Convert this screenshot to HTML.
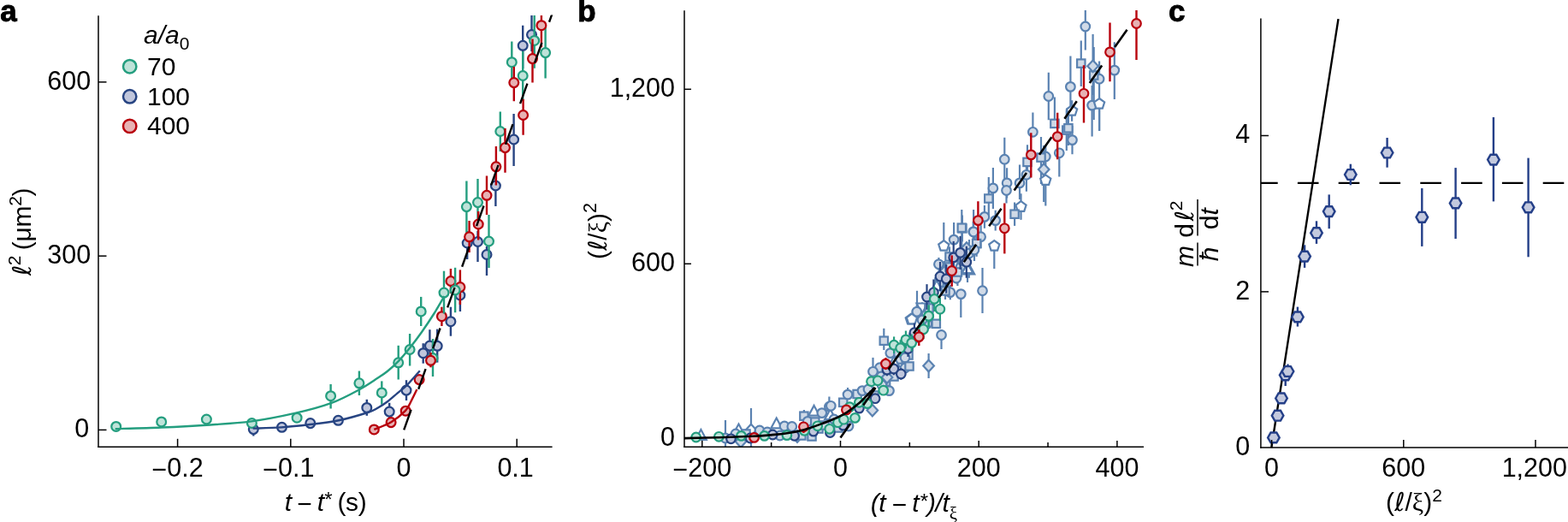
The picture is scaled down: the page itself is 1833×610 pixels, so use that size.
<!DOCTYPE html>
<html><head><meta charset="utf-8"><style>
html,body{margin:0;padding:0;background:#fff;}
body{width:1833px;height:610px;overflow:hidden;}
svg{display:block;}
text{font-family:"Liberation Sans", Arial, Helvetica, sans-serif;fill:#000;}
</style></head><body>
<svg width="1833" height="610" viewBox="0 0 1833 610">
<rect width="1833" height="610" fill="#fff"/>
<g id="pa">
<clipPath id="ca"><rect x="115" y="17.5" width="540" height="505"/></clipPath>
<g clip-path="url(#ca)">
<line x1="296.3" y1="495" x2="296.3" y2="509.5" stroke="#274482" stroke-width="2.4" />
<line x1="362.8" y1="489" x2="362.8" y2="500" stroke="#274482" stroke-width="2.4" />
<line x1="395.4" y1="486" x2="395.4" y2="497" stroke="#274482" stroke-width="2.4" />
<line x1="428.8" y1="466.8" x2="428.8" y2="485.8" stroke="#274482" stroke-width="2.4" />
<line x1="455.2" y1="470.8" x2="455.2" y2="490" stroke="#274482" stroke-width="2.4" />
<line x1="475" y1="444.2" x2="475" y2="468" stroke="#274482" stroke-width="2.4" />
<line x1="494.7" y1="401.2" x2="494.7" y2="424.7" stroke="#274482" stroke-width="2.4" />
<line x1="502.4" y1="385.2" x2="502.4" y2="418" stroke="#274482" stroke-width="2.4" />
<line x1="511.2" y1="384.6" x2="511.2" y2="423.6" stroke="#274482" stroke-width="2.4" />
<line x1="526.9" y1="358.7" x2="526.9" y2="392.7" stroke="#274482" stroke-width="2.4" />
<line x1="537.9" y1="327" x2="537.9" y2="364" stroke="#274482" stroke-width="2.4" />
<line x1="546.2" y1="270" x2="546.2" y2="303" stroke="#274482" stroke-width="2.4" />
<line x1="558.5" y1="270" x2="558.5" y2="306" stroke="#274482" stroke-width="2.4" />
<line x1="569" y1="287.9" x2="569" y2="322" stroke="#274482" stroke-width="2.4" />
<line x1="579.4" y1="199" x2="579.4" y2="241" stroke="#274482" stroke-width="2.4" />
<line x1="600.6" y1="133" x2="600.6" y2="194" stroke="#274482" stroke-width="2.4" />
<line x1="611.2" y1="29.7" x2="611.2" y2="80" stroke="#274482" stroke-width="2.4" />
<line x1="621.5" y1="17.9" x2="621.5" y2="60" stroke="#274482" stroke-width="2.4" />
<circle cx="296.3" cy="501.6" r="5.4" fill="#c0c6dc" stroke="#274482" stroke-width="2.25"/>
<circle cx="329.5" cy="499.3" r="5.4" fill="#c0c6dc" stroke="#274482" stroke-width="2.25"/>
<circle cx="362.8" cy="494.6" r="5.4" fill="#c0c6dc" stroke="#274482" stroke-width="2.25"/>
<circle cx="395.4" cy="491.3" r="5.4" fill="#c0c6dc" stroke="#274482" stroke-width="2.25"/>
<circle cx="428.8" cy="476.4" r="5.4" fill="#c0c6dc" stroke="#274482" stroke-width="2.25"/>
<circle cx="455.2" cy="481.1" r="5.4" fill="#c0c6dc" stroke="#274482" stroke-width="2.25"/>
<circle cx="475" cy="456.1" r="5.4" fill="#c0c6dc" stroke="#274482" stroke-width="2.25"/>
<circle cx="494.7" cy="412.7" r="5.4" fill="#c0c6dc" stroke="#274482" stroke-width="2.25"/>
<circle cx="502.4" cy="404.1" r="5.4" fill="#c0c6dc" stroke="#274482" stroke-width="2.25"/>
<circle cx="511.2" cy="404.3" r="5.4" fill="#c0c6dc" stroke="#274482" stroke-width="2.25"/>
<circle cx="526.9" cy="375.7" r="5.4" fill="#c0c6dc" stroke="#274482" stroke-width="2.25"/>
<circle cx="537.9" cy="345" r="5.4" fill="#c0c6dc" stroke="#274482" stroke-width="2.25"/>
<circle cx="546.2" cy="284" r="5.4" fill="#c0c6dc" stroke="#274482" stroke-width="2.25"/>
<circle cx="558.5" cy="282.5" r="5.4" fill="#c0c6dc" stroke="#274482" stroke-width="2.25"/>
<circle cx="569" cy="297.5" r="5.4" fill="#c0c6dc" stroke="#274482" stroke-width="2.25"/>
<circle cx="579.4" cy="217" r="5.4" fill="#c0c6dc" stroke="#274482" stroke-width="2.25"/>
<circle cx="600.6" cy="163" r="5.4" fill="#c0c6dc" stroke="#274482" stroke-width="2.25"/>
<circle cx="611.2" cy="53.3" r="5.4" fill="#c0c6dc" stroke="#274482" stroke-width="2.25"/>
<circle cx="621.5" cy="40.5" r="5.4" fill="#c0c6dc" stroke="#274482" stroke-width="2.25"/>
<line x1="386.6" y1="449" x2="386.6" y2="477.5" stroke="#249e7f" stroke-width="2.4" />
<line x1="419.9" y1="433.5" x2="419.9" y2="462" stroke="#249e7f" stroke-width="2.4" />
<line x1="446.3" y1="445.4" x2="446.3" y2="472.7" stroke="#249e7f" stroke-width="2.4" />
<line x1="465.7" y1="403.8" x2="465.7" y2="443.5" stroke="#249e7f" stroke-width="2.4" />
<line x1="479.1" y1="390" x2="479.1" y2="427.5" stroke="#249e7f" stroke-width="2.4" />
<line x1="492.2" y1="346.9" x2="492.2" y2="381" stroke="#249e7f" stroke-width="2.4" />
<line x1="506" y1="396" x2="506" y2="440" stroke="#249e7f" stroke-width="2.4" />
<line x1="545.4" y1="211.5" x2="545.4" y2="273" stroke="#249e7f" stroke-width="2.4" />
<line x1="558.5" y1="209" x2="558.5" y2="258" stroke="#249e7f" stroke-width="2.4" />
<line x1="571.5" y1="251" x2="571.5" y2="313" stroke="#249e7f" stroke-width="2.4" />
<line x1="584.8" y1="130.6" x2="584.8" y2="177" stroke="#249e7f" stroke-width="2.4" />
<line x1="598.3" y1="48.4" x2="598.3" y2="96.6" stroke="#249e7f" stroke-width="2.4" />
<line x1="611.2" y1="60" x2="611.2" y2="118" stroke="#249e7f" stroke-width="2.4" />
<line x1="624.7" y1="17.9" x2="624.7" y2="79.8" stroke="#249e7f" stroke-width="2.4" />
<line x1="637.6" y1="31.6" x2="637.6" y2="91.6" stroke="#249e7f" stroke-width="2.4" />
<circle cx="135.7" cy="498.4" r="5.4" fill="#bfe3d9" stroke="#249e7f" stroke-width="2.25"/>
<circle cx="188.7" cy="492.9" r="5.4" fill="#bfe3d9" stroke="#249e7f" stroke-width="2.25"/>
<circle cx="241.4" cy="490" r="5.4" fill="#bfe3d9" stroke="#249e7f" stroke-width="2.25"/>
<circle cx="294.4" cy="494.5" r="5.4" fill="#bfe3d9" stroke="#249e7f" stroke-width="2.25"/>
<circle cx="347.1" cy="488.2" r="5.4" fill="#bfe3d9" stroke="#249e7f" stroke-width="2.25"/>
<circle cx="386.6" cy="462.7" r="5.4" fill="#bfe3d9" stroke="#249e7f" stroke-width="2.25"/>
<circle cx="419.9" cy="447.8" r="5.4" fill="#bfe3d9" stroke="#249e7f" stroke-width="2.25"/>
<circle cx="446.3" cy="458.9" r="5.4" fill="#bfe3d9" stroke="#249e7f" stroke-width="2.25"/>
<circle cx="465.7" cy="423.8" r="5.4" fill="#bfe3d9" stroke="#249e7f" stroke-width="2.25"/>
<circle cx="479.1" cy="408.5" r="5.4" fill="#bfe3d9" stroke="#249e7f" stroke-width="2.25"/>
<circle cx="492.2" cy="363.9" r="5.4" fill="#bfe3d9" stroke="#249e7f" stroke-width="2.25"/>
<circle cx="506" cy="418.5" r="5.4" fill="#bfe3d9" stroke="#249e7f" stroke-width="2.25"/>
<circle cx="545.4" cy="241.6" r="5.4" fill="#bfe3d9" stroke="#249e7f" stroke-width="2.25"/>
<circle cx="558.5" cy="236.6" r="5.4" fill="#bfe3d9" stroke="#249e7f" stroke-width="2.25"/>
<circle cx="571.5" cy="282" r="5.4" fill="#bfe3d9" stroke="#249e7f" stroke-width="2.25"/>
<circle cx="584.8" cy="153.5" r="5.4" fill="#bfe3d9" stroke="#249e7f" stroke-width="2.25"/>
<circle cx="598.3" cy="72.7" r="5.4" fill="#bfe3d9" stroke="#249e7f" stroke-width="2.25"/>
<circle cx="611.2" cy="88.5" r="5.4" fill="#bfe3d9" stroke="#249e7f" stroke-width="2.25"/>
<circle cx="624.7" cy="47.4" r="5.4" fill="#bfe3d9" stroke="#249e7f" stroke-width="2.25"/>
<circle cx="637.6" cy="61.6" r="5.4" fill="#bfe3d9" stroke="#249e7f" stroke-width="2.25"/>
<line x1="503.5" y1="412" x2="503.5" y2="429.3" stroke="#b8000c" stroke-width="2.4" />
<line x1="516.4" y1="358.7" x2="516.4" y2="381" stroke="#b8000c" stroke-width="2.4" />
<line x1="526.9" y1="314" x2="526.9" y2="343" stroke="#b8000c" stroke-width="2.4" />
<line x1="537.9" y1="315.4" x2="537.9" y2="356" stroke="#b8000c" stroke-width="2.4" />
<line x1="548.6" y1="258" x2="548.6" y2="295" stroke="#b8000c" stroke-width="2.4" />
<line x1="559.2" y1="247" x2="559.2" y2="280.5" stroke="#b8000c" stroke-width="2.4" />
<line x1="569" y1="205.4" x2="569" y2="251" stroke="#b8000c" stroke-width="2.4" />
<line x1="579.9" y1="171" x2="579.9" y2="216.5" stroke="#b8000c" stroke-width="2.4" />
<line x1="590.5" y1="150" x2="590.5" y2="201.7" stroke="#b8000c" stroke-width="2.4" />
<line x1="600.8" y1="77.9" x2="600.8" y2="118.2" stroke="#b8000c" stroke-width="2.4" />
<line x1="611.6" y1="115.8" x2="611.6" y2="157.7" stroke="#b8000c" stroke-width="2.4" />
<line x1="622.5" y1="45.4" x2="622.5" y2="96.6" stroke="#b8000c" stroke-width="2.4" />
<line x1="632.9" y1="17.9" x2="632.9" y2="55.2" stroke="#b8000c" stroke-width="2.4" />
<circle cx="437.3" cy="501.9" r="5.4" fill="#e7b2b4" stroke="#b8000c" stroke-width="2.25"/>
<circle cx="457.1" cy="493.6" r="5.4" fill="#e7b2b4" stroke="#b8000c" stroke-width="2.25"/>
<circle cx="474.2" cy="480.2" r="5.4" fill="#e7b2b4" stroke="#b8000c" stroke-width="2.25"/>
<circle cx="490.1" cy="443.6" r="5.4" fill="#e7b2b4" stroke="#b8000c" stroke-width="2.25"/>
<circle cx="503.5" cy="421.3" r="5.4" fill="#e7b2b4" stroke="#b8000c" stroke-width="2.25"/>
<circle cx="516.4" cy="369.7" r="5.4" fill="#e7b2b4" stroke="#b8000c" stroke-width="2.25"/>
<circle cx="526.9" cy="328.5" r="5.4" fill="#e7b2b4" stroke="#b8000c" stroke-width="2.25"/>
<circle cx="537.9" cy="335.6" r="5.4" fill="#e7b2b4" stroke="#b8000c" stroke-width="2.25"/>
<circle cx="548.6" cy="276.8" r="5.4" fill="#e7b2b4" stroke="#b8000c" stroke-width="2.25"/>
<circle cx="559.2" cy="262" r="5.4" fill="#e7b2b4" stroke="#b8000c" stroke-width="2.25"/>
<circle cx="569" cy="228.3" r="5.4" fill="#e7b2b4" stroke="#b8000c" stroke-width="2.25"/>
<circle cx="579.9" cy="194.8" r="5.4" fill="#e7b2b4" stroke="#b8000c" stroke-width="2.25"/>
<circle cx="590.5" cy="172.6" r="5.4" fill="#e7b2b4" stroke="#b8000c" stroke-width="2.25"/>
<circle cx="600.8" cy="96.6" r="5.4" fill="#e7b2b4" stroke="#b8000c" stroke-width="2.25"/>
<circle cx="611.6" cy="134.5" r="5.4" fill="#e7b2b4" stroke="#b8000c" stroke-width="2.25"/>
<circle cx="622.5" cy="68.6" r="5.4" fill="#e7b2b4" stroke="#b8000c" stroke-width="2.25"/>
<circle cx="632.9" cy="29.7" r="5.4" fill="#e7b2b4" stroke="#b8000c" stroke-width="2.25"/>
<line x1="519" y1="316.7" x2="519" y2="366.5" stroke="#249e7f" stroke-width="2.4" />
<line x1="532.1" y1="312.8" x2="532.1" y2="365.2" stroke="#249e7f" stroke-width="2.4" />
<circle cx="519" cy="342.1" r="5.4" fill="#bfe3d9" stroke="#249e7f" stroke-width="2.25"/>
<circle cx="532.1" cy="339" r="5.4" fill="#bfe3d9" stroke="#249e7f" stroke-width="2.25"/>
</g>
<g clip-path="url(#ca)" fill="none" stroke-width="2.4">
<path d="M134.7,501.2 C143.72,500.92 171.03,500.25 188.8,499.5 C206.57,498.75 223.78,497.88 241.3,496.7 C258.82,495.52 276.5,494.73 293.9,492.4 C311.3,490.07 330.1,486.28 345.7,482.7 C361.3,479.12 375.18,475.43 387.5,470.9 C399.82,466.37 410.6,460.35 419.6,455.5 C428.6,450.65 435.93,445.42 441.5,441.8 C447.07,438.18 448.88,437.17 453,433.8 C457.12,430.43 461.75,426.28 466.2,421.6 C470.65,416.92 475.2,411.35 479.7,405.7 C484.2,400.05 488.53,394.32 493.2,387.7 C497.87,381.08 503.33,372.92 507.7,366 C512.07,359.08 517.45,349.5 519.4,346.2" stroke="#249e7f"/>
<path d="M295.6,500.6 C301.17,500.4 317.85,500.17 329,499.4 C340.15,498.63 351.35,497.35 362.5,496 C373.65,494.65 384.65,493.63 395.9,491.3 C407.15,488.97 422.4,484.42 430,482 C437.6,479.58 437.67,478.92 441.5,476.8 C445.33,474.68 449.18,472.17 453,469.3 C456.82,466.43 460.58,462.85 464.4,459.6 C468.22,456.35 471.5,454.2 475.9,449.8 C480.3,445.4 488.32,435.97 490.8,433.2" stroke="#274482"/>
<path d="M437.3,501.9 C440.63,500.45 451.18,496.87 457.3,493.2 C463.42,489.53 470.13,483.93 474,479.9 C477.87,475.87 478.27,473.15 480.5,469 C482.73,464.85 486.25,457.33 487.4,455" stroke="#b8000c"/>
</g>
<g clip-path="url(#ca)">
<line x1="472.2" y1="502.4" x2="645.5" y2="16" stroke="#000" stroke-width="2.4" stroke-dasharray="25 25.6"/>
</g>
<line x1="115" y1="18.3" x2="115" y2="523" stroke="#000" stroke-width="1.5" />
<line x1="114.3" y1="522.3" x2="645.6" y2="522.3" stroke="#000" stroke-width="1.5" />
<line x1="115" y1="502.4" x2="124.5" y2="502.4" stroke="#000" stroke-width="1.5" />
<text x="104.3" y="511.3" font-size="30.5" text-anchor="end" >0</text>
<line x1="115" y1="299.15" x2="124.5" y2="299.15" stroke="#000" stroke-width="1.5" />
<text x="106.2" y="308.05" font-size="30.5" text-anchor="end" >300</text>
<line x1="115" y1="95.9" x2="124.5" y2="95.9" stroke="#000" stroke-width="1.5" />
<text x="106.2" y="104.8" font-size="30.5" text-anchor="end" >600</text>
<line x1="207.6" y1="522.3" x2="207.6" y2="512.8" stroke="#000" stroke-width="1.5" />
<text x="207.6" y="557.3" font-size="30.5" text-anchor="middle" ><tspan dy="2">&#8722;</tspan><tspan dy="-2">0.2</tspan></text>
<line x1="339.8" y1="522.3" x2="339.8" y2="512.8" stroke="#000" stroke-width="1.5" />
<text x="337.3" y="557.3" font-size="30.5" text-anchor="middle" ><tspan dy="2">&#8722;</tspan><tspan dy="-2">0.1</tspan></text>
<line x1="472" y1="522.3" x2="472" y2="512.8" stroke="#000" stroke-width="1.5" />
<text x="472" y="557.3" font-size="30.5" text-anchor="middle" >0</text>
<line x1="604.2" y1="522.3" x2="604.2" y2="512.8" stroke="#000" stroke-width="1.5" />
<text x="602.6" y="557.3" font-size="30.5" text-anchor="middle" >0.1</text>
<text x="380.5" y="596.8" font-size="30" text-anchor="middle" word-spacing="-1.4" letter-spacing="-0.45"><tspan font-style="italic">t</tspan> <tspan dy="2">&#8722;</tspan><tspan dy="-2"> </tspan><tspan font-style="italic">t</tspan><tspan font-size="24" dy="-4.5" dx="0.5">*</tspan><tspan dy="4.5"> (s)</tspan></text>
<text x="36" y="271" font-size="30" text-anchor="middle" transform="rotate(-90 36 271)" word-spacing="-1.5" letter-spacing="-0.3"><tspan font-family="DejaVu Sans">&#8467;</tspan><tspan font-size="21" dy="-12.5">2</tspan><tspan dy="12.5"> (&#956;m</tspan><tspan font-size="21" dy="-11">2</tspan><tspan dy="11">)</tspan></text>
<text x="168" y="51" font-size="30" text-anchor="start" ><tspan font-style="italic">a/a</tspan><tspan font-size="21" dy="7">0</tspan></text>
<circle cx="151.7" cy="77.7" r="7.7" fill="#bfe3d9" stroke="#249e7f" stroke-width="2.5"/>
<text x="172" y="88.2" font-size="30" text-anchor="start" >70</text>
<circle cx="151.7" cy="112.8" r="7.7" fill="#c0c6dc" stroke="#274482" stroke-width="2.5"/>
<text x="172" y="122.5" font-size="30" text-anchor="start" >100</text>
<circle cx="151.7" cy="147.4" r="7.7" fill="#e7b2b4" stroke="#b8000c" stroke-width="2.5"/>
<text x="172" y="156.5" font-size="30" text-anchor="start" >400</text>
</g>
<text x="0.3" y="24.5" font-size="35" text-anchor="start" font-weight="bold" stroke="#000" stroke-width="0.9">a</text>
<text x="675.3" y="24.6" font-size="35" text-anchor="start" font-weight="bold" stroke="#000" stroke-width="0.9">b</text>
<text x="1366" y="24.6" font-size="35" text-anchor="start" font-weight="bold" stroke="#000" stroke-width="0.9">c</text>
<g id="pb">
<clipPath id="cb"><rect x="800" y="11.5" width="540" height="511"/></clipPath>
<g clip-path="url(#cb)">
<line x1="848" y1="491" x2="848" y2="522" stroke="#5a82b1" stroke-width="2.2" />
<line x1="878" y1="477" x2="878" y2="522" stroke="#5a82b1" stroke-width="2.2" />
<line x1="939.9" y1="479" x2="939.9" y2="486.2" stroke="#5a82b1" stroke-width="2.2" />
<line x1="969.4" y1="463.5" x2="969.4" y2="475.2" stroke="#5a82b1" stroke-width="2.2" />
<line x1="991" y1="453" x2="991" y2="461.1" stroke="#5a82b1" stroke-width="2.2" />
<line x1="1008" y1="453.57" x2="1008" y2="459.63" stroke="#5a82b1" stroke-width="2.2" />
<line x1="1035.6" y1="442.86" x2="1035.6" y2="449.14" stroke="#5a82b1" stroke-width="2.2" />
<line x1="1028.4" y1="426.32" x2="1028.4" y2="433.08" stroke="#5a82b1" stroke-width="2.2" />
<line x1="1040.8" y1="407.8" x2="1040.8" y2="417.4" stroke="#5a82b1" stroke-width="2.2" />
<line x1="1020.5" y1="417.9" x2="1020.5" y2="434.3" stroke="#5a82b1" stroke-width="2.2" />
<line x1="1033.3" y1="383.8" x2="1033.3" y2="409" stroke="#5a82b1" stroke-width="2.2" />
<line x1="1085.6" y1="413" x2="1085.6" y2="442" stroke="#5a82b1" stroke-width="2.2" />
<line x1="1100.5" y1="385" x2="1100.5" y2="408" stroke="#5a82b1" stroke-width="2.2" />
<line x1="1064.8" y1="369.02" x2="1064.8" y2="377.58" stroke="#5a82b1" stroke-width="2.2" />
<line x1="1094.3" y1="374.2" x2="1094.3" y2="382.4" stroke="#5a82b1" stroke-width="2.2" />
<line x1="1072" y1="339.8" x2="1072" y2="364.4" stroke="#5a82b1" stroke-width="2.2" />
<line x1="1077.9" y1="353.31" x2="1077.9" y2="364.49" stroke="#5a82b1" stroke-width="2.2" />
<line x1="1083.8" y1="371.26" x2="1083.8" y2="385.74" stroke="#5a82b1" stroke-width="2.2" />
<line x1="1050" y1="416" x2="1050" y2="424" stroke="#5a82b1" stroke-width="2.2" />
<line x1="1058" y1="426.81" x2="1058" y2="433.19" stroke="#5a82b1" stroke-width="2.2" />
<line x1="1062" y1="410.19" x2="1062" y2="419.81" stroke="#5a82b1" stroke-width="2.2" />
<line x1="1045" y1="436.87" x2="1045" y2="443.13" stroke="#5a82b1" stroke-width="2.2" />
<line x1="1068" y1="388.2" x2="1068" y2="401.8" stroke="#5a82b1" stroke-width="2.2" />
<line x1="1071.8" y1="356.15" x2="1071.8" y2="372.45" stroke="#5a82b1" stroke-width="2.2" />
<line x1="1097.4" y1="301" x2="1097.4" y2="316.6" stroke="#5a82b1" stroke-width="2.2" />
<line x1="1115.1" y1="260" x2="1115.1" y2="280.1" stroke="#5a82b1" stroke-width="2.2" />
<line x1="1103.3" y1="260" x2="1103.3" y2="287.5" stroke="#5a82b1" stroke-width="2.2" />
<line x1="1110.8" y1="332.94" x2="1110.8" y2="350.26" stroke="#5a82b1" stroke-width="2.2" />
<line x1="1123.3" y1="343.6" x2="1123.3" y2="371" stroke="#5a82b1" stroke-width="2.2" />
<line x1="1148.5" y1="313" x2="1148.5" y2="366" stroke="#5a82b1" stroke-width="2.2" />
<line x1="1162.3" y1="287.5" x2="1162.3" y2="314" stroke="#5a82b1" stroke-width="2.2" />
<line x1="1137.7" y1="258.85" x2="1137.7" y2="282.75" stroke="#5a82b1" stroke-width="2.2" />
<line x1="1124.9" y1="251.42" x2="1124.9" y2="282.38" stroke="#5a82b1" stroke-width="2.2" />
<line x1="1146.6" y1="263.19" x2="1146.6" y2="290.21" stroke="#5a82b1" stroke-width="2.2" />
<line x1="1065.9" y1="367.62" x2="1065.9" y2="378.58" stroke="#5a82b1" stroke-width="2.2" />
<line x1="1141.6" y1="269.35" x2="1141.6" y2="299.85" stroke="#5a82b1" stroke-width="2.2" />
<line x1="1123" y1="305.4" x2="1123" y2="318.8" stroke="#5a82b1" stroke-width="2.2" />
<line x1="1132.8" y1="307.17" x2="1132.8" y2="324.83" stroke="#5a82b1" stroke-width="2.2" />
<line x1="1105" y1="330.05" x2="1105" y2="349.95" stroke="#5a82b1" stroke-width="2.2" />
<line x1="1118" y1="318.51" x2="1118" y2="331.49" stroke="#5a82b1" stroke-width="2.2" />
<line x1="1098" y1="321.33" x2="1098" y2="338.67" stroke="#5a82b1" stroke-width="2.2" />
<line x1="1130" y1="283.21" x2="1130" y2="296.79" stroke="#5a82b1" stroke-width="2.2" />
<line x1="1110" y1="288.37" x2="1110" y2="311.63" stroke="#5a82b1" stroke-width="2.2" />
<line x1="1174.3" y1="160.7" x2="1174.3" y2="209.7" stroke="#5a82b1" stroke-width="2.2" />
<line x1="1160.9" y1="196" x2="1160.9" y2="244" stroke="#5a82b1" stroke-width="2.2" />
<line x1="1177.1" y1="196.26" x2="1177.1" y2="231.54" stroke="#5a82b1" stroke-width="2.2" />
<line x1="1176.5" y1="207.55" x2="1176.5" y2="237.45" stroke="#5a82b1" stroke-width="2.2" />
<line x1="1192" y1="192.6" x2="1192" y2="233" stroke="#5a82b1" stroke-width="2.2" />
<line x1="1199.9" y1="184.75" x2="1199.9" y2="223.85" stroke="#5a82b1" stroke-width="2.2" />
<line x1="1207.4" y1="131.6" x2="1207.4" y2="154.3" stroke="#5a82b1" stroke-width="2.2" />
<line x1="1238.3" y1="178.8" x2="1238.3" y2="206.5" stroke="#5a82b1" stroke-width="2.2" />
<line x1="1222.3" y1="169.3" x2="1222.3" y2="196.7" stroke="#5a82b1" stroke-width="2.2" />
<line x1="1155.8" y1="207" x2="1155.8" y2="255" stroke="#5a82b1" stroke-width="2.2" />
<line x1="1217" y1="160" x2="1217" y2="215" stroke="#5a82b1" stroke-width="2.2" />
<line x1="1220.2" y1="170" x2="1220.2" y2="236" stroke="#5a82b1" stroke-width="2.2" />
<line x1="1222.3" y1="210.7" x2="1222.3" y2="240.6" stroke="#5a82b1" stroke-width="2.2" />
<line x1="1193.5" y1="226.37" x2="1193.5" y2="256.83" stroke="#5a82b1" stroke-width="2.2" />
<line x1="1186.1" y1="236.5" x2="1186.1" y2="263.9" stroke="#5a82b1" stroke-width="2.2" />
<line x1="1150.9" y1="240.02" x2="1150.9" y2="266.78" stroke="#5a82b1" stroke-width="2.2" />
<line x1="1163.7" y1="245.66" x2="1163.7" y2="269.54" stroke="#5a82b1" stroke-width="2.2" />
<line x1="1124.3" y1="245" x2="1124.3" y2="290" stroke="#5a82b1" stroke-width="2.2" />
<line x1="1138.1" y1="245" x2="1138.1" y2="296" stroke="#5a82b1" stroke-width="2.2" />
<line x1="1201" y1="169.33" x2="1201" y2="209.47" stroke="#5a82b1" stroke-width="2.2" />
<line x1="1246.8" y1="128.18" x2="1246.8" y2="176.02" stroke="#5a82b1" stroke-width="2.2" />
<line x1="1225.8" y1="84.8" x2="1225.8" y2="140.2" stroke="#5a82b1" stroke-width="2.2" />
<line x1="1251.4" y1="65.6" x2="1251.4" y2="130" stroke="#5a82b1" stroke-width="2.2" />
<line x1="1276.6" y1="100" x2="1276.6" y2="159.4" stroke="#5a82b1" stroke-width="2.2" />
<line x1="1285.1" y1="71.6" x2="1285.1" y2="152.7" stroke="#5a82b1" stroke-width="2.2" />
<line x1="1253.5" y1="146.88" x2="1253.5" y2="180.32" stroke="#5a82b1" stroke-width="2.2" />
<line x1="1263.8" y1="47.5" x2="1263.8" y2="101" stroke="#5a82b1" stroke-width="2.2" />
<line x1="1232.9" y1="113.5" x2="1232.9" y2="144.4" stroke="#5a82b1" stroke-width="2.2" />
<line x1="1248.9" y1="129.71" x2="1248.9" y2="169.89" stroke="#5a82b1" stroke-width="2.2" />
<line x1="1278.7" y1="55" x2="1278.7" y2="140" stroke="#5a82b1" stroke-width="2.2" />
<line x1="1277.6" y1="40" x2="1277.6" y2="111" stroke="#5a82b1" stroke-width="2.2" />
<line x1="1253.1" y1="117.32" x2="1253.1" y2="141.68" stroke="#5a82b1" stroke-width="2.2" />
<line x1="1285.1" y1="121.4" x2="1285.1" y2="153" stroke="#5a82b1" stroke-width="2.2" />
<line x1="1268.8" y1="12" x2="1268.8" y2="58.5" stroke="#5a82b1" stroke-width="2.2" />
<line x1="1302.8" y1="49.3" x2="1302.8" y2="115.9" stroke="#5a82b1" stroke-width="2.2" />
<line x1="1131" y1="300" x2="1131" y2="330" stroke="#5a82b1" stroke-width="2.2" />
<line x1="1133" y1="280" x2="1133" y2="312" stroke="#5a82b1" stroke-width="2.2" />
<line x1="1119.4" y1="303" x2="1119.4" y2="334" stroke="#5a82b1" stroke-width="2.2" />
<line x1="1104" y1="305" x2="1104" y2="333" stroke="#5a82b1" stroke-width="2.2" />
<line x1="1095" y1="322" x2="1095" y2="348" stroke="#5a82b1" stroke-width="2.2" />
<line x1="1086" y1="350" x2="1086" y2="372" stroke="#5a82b1" stroke-width="2.2" />
<line x1="1078" y1="362" x2="1078" y2="386" stroke="#5a82b1" stroke-width="2.2" />
<line x1="1050" y1="402" x2="1050" y2="424" stroke="#5a82b1" stroke-width="2.2" />
<line x1="1058" y1="408" x2="1058" y2="428" stroke="#5a82b1" stroke-width="2.2" />
<line x1="1045" y1="414" x2="1045" y2="434" stroke="#5a82b1" stroke-width="2.2" />
<line x1="1063" y1="423.53" x2="1063" y2="432.47" stroke="#5a82b1" stroke-width="2.2" />
<line x1="1015" y1="447" x2="1015" y2="463" stroke="#5a82b1" stroke-width="2.2" />
<line x1="1031" y1="442" x2="1031" y2="458" stroke="#5a82b1" stroke-width="2.2" />
<line x1="1037" y1="436.54" x2="1037" y2="445.46" stroke="#5a82b1" stroke-width="2.2" />
<line x1="1110" y1="298" x2="1110" y2="325" stroke="#5a82b1" stroke-width="2.2" />
<line x1="1139" y1="277" x2="1139" y2="305" stroke="#5a82b1" stroke-width="2.2" />
<line x1="1125.4" y1="292" x2="1125.4" y2="318" stroke="#5a82b1" stroke-width="2.2" />
<polygon points="819.4,502.1 825.8,513.9 813,513.9" fill="#ffffff" stroke="#5a82b1" stroke-width="2.2" stroke-linejoin="miter"/>
<circle cx="848" cy="512" r="5.3" fill="#d0dae7" stroke="#5a82b1" stroke-width="2.2"/>
<polygon points="863.5,495.6 869.9,507.4 857.1,507.4" fill="#ffffff" stroke="#5a82b1" stroke-width="2.2" stroke-linejoin="miter"/>
<polygon points="878,495.7 884.3,502.5 878,509.3 871.7,502.5" fill="#ffffff" stroke="#5a82b1" stroke-width="2.2" stroke-linejoin="miter"/>
<circle cx="888" cy="503" r="5.3" fill="#d0dae7" stroke="#5a82b1" stroke-width="2.2"/>
<polygon points="907.7,488.6 914.1,500.4 901.3,500.4" fill="#ffffff" stroke="#5a82b1" stroke-width="2.2" stroke-linejoin="miter"/>
<circle cx="917" cy="498" r="5.3" fill="#d0dae7" stroke="#5a82b1" stroke-width="2.2"/>
<circle cx="860" cy="507" r="5.3" fill="#d0dae7" stroke="#5a82b1" stroke-width="2.2"/>
<rect x="867.3" y="502.3" width="9.4" height="9.4" fill="#d0dae7" stroke="#5a82b1" stroke-width="2.2"/>
<circle cx="897" cy="505" r="5.3" fill="#d0dae7" stroke="#5a82b1" stroke-width="2.2"/>
<polygon points="866,509.2 872.3,516 866,522.8 859.7,516" fill="#d0dae7" stroke="#5a82b1" stroke-width="2.2" stroke-linejoin="miter"/>
<circle cx="911.7" cy="509" r="5.3" fill="#d0dae7" stroke="#5a82b1" stroke-width="2.2"/>
<circle cx="925.8" cy="498.5" r="5.3" fill="#d0dae7" stroke="#5a82b1" stroke-width="2.2"/>
<rect x="935.2" y="481.5" width="9.4" height="9.4" fill="#d0dae7" stroke="#5a82b1" stroke-width="2.2"/>
<circle cx="944.2" cy="492.4" r="5.3" fill="#d0dae7" stroke="#5a82b1" stroke-width="2.2"/>
<polygon points="951.6,473.9 958,485.7 945.2,485.7" fill="#ffffff" stroke="#5a82b1" stroke-width="2.2" stroke-linejoin="miter"/>
<circle cx="960.8" cy="482.6" r="5.3" fill="#d0dae7" stroke="#5a82b1" stroke-width="2.2"/>
<circle cx="969.4" cy="475.2" r="5.3" fill="#d0dae7" stroke="#5a82b1" stroke-width="2.2"/>
<rect x="948.1" y="488.3" width="9.4" height="9.4" fill="#d0dae7" stroke="#5a82b1" stroke-width="2.2"/>
<rect x="952.3" y="496.3" width="9.4" height="9.4" fill="#d0dae7" stroke="#5a82b1" stroke-width="2.2"/>
<polygon points="932,503.2 938.3,510 932,516.8 925.7,510" fill="#d0dae7" stroke="#5a82b1" stroke-width="2.2" stroke-linejoin="miter"/>
<rect x="932.2" y="504.3" width="9.4" height="9.4" fill="#d0dae7" stroke="#5a82b1" stroke-width="2.2"/>
<rect x="944.3" y="505.3" width="9.4" height="9.4" fill="#d0dae7" stroke="#5a82b1" stroke-width="2.2"/>
<polygon points="970.6,478.2 977,490 964.2,490" fill="#ffffff" stroke="#5a82b1" stroke-width="2.2" stroke-linejoin="miter"/>
<rect x="959.3" y="492.3" width="9.4" height="9.4" fill="#d0dae7" stroke="#5a82b1" stroke-width="2.2"/>
<circle cx="975" cy="490" r="5.3" fill="#d0dae7" stroke="#5a82b1" stroke-width="2.2"/>
<rect x="975.3" y="495.3" width="9.4" height="9.4" fill="#d0dae7" stroke="#5a82b1" stroke-width="2.2"/>
<circle cx="992" cy="498" r="5.3" fill="#d0dae7" stroke="#5a82b1" stroke-width="2.2"/>
<circle cx="971.3" cy="474.3" r="5.3" fill="#d0dae7" stroke="#5a82b1" stroke-width="2.2"/>
<rect x="981" y="465.6" width="9.4" height="9.4" fill="#d0dae7" stroke="#5a82b1" stroke-width="2.2"/>
<circle cx="991" cy="461.1" r="5.3" fill="#d0dae7" stroke="#5a82b1" stroke-width="2.2"/>
<rect x="997.4" y="455.8" width="9.4" height="9.4" fill="#d0dae7" stroke="#5a82b1" stroke-width="2.2"/>
<circle cx="1008" cy="456.6" r="5.3" fill="#d0dae7" stroke="#5a82b1" stroke-width="2.2"/>
<circle cx="1039.5" cy="456.6" r="5.3" fill="#d0dae7" stroke="#5a82b1" stroke-width="2.2"/>
<rect x="1030.9" y="441.3" width="9.4" height="9.4" fill="#d0dae7" stroke="#5a82b1" stroke-width="2.2"/>
<polygon points="1019.8,472.7 1026.1,479.5 1019.8,486.3 1013.5,479.5" fill="#d0dae7" stroke="#5a82b1" stroke-width="2.2" stroke-linejoin="miter"/>
<circle cx="1028.4" cy="429.7" r="5.3" fill="#d0dae7" stroke="#5a82b1" stroke-width="2.2"/>
<circle cx="1040.8" cy="412.6" r="5.3" fill="#d0dae7" stroke="#5a82b1" stroke-width="2.2"/>
<circle cx="1020.5" cy="434.3" r="5.3" fill="#d0dae7" stroke="#5a82b1" stroke-width="2.2"/>
<rect x="1028.6" y="393.5" width="9.4" height="9.4" fill="#d0dae7" stroke="#5a82b1" stroke-width="2.2"/>
<polygon points="1085.6,420.7 1091.9,427.5 1085.6,434.3 1079.3,427.5" fill="#d0dae7" stroke="#5a82b1" stroke-width="2.2" stroke-linejoin="miter"/>
<circle cx="1100.5" cy="391.5" r="5.3" fill="#d0dae7" stroke="#5a82b1" stroke-width="2.2"/>
<polygon points="1064.8,366.9 1070.89,371.32 1068.56,378.48 1061.04,378.48 1058.71,371.32" fill="#ffffff" stroke="#5a82b1" stroke-width="2.2" stroke-linejoin="miter"/>
<rect x="1089.6" y="373.6" width="9.4" height="9.4" fill="#d0dae7" stroke="#5a82b1" stroke-width="2.2"/>
<circle cx="1072" cy="364.4" r="5.3" fill="#d0dae7" stroke="#5a82b1" stroke-width="2.2"/>
<polygon points="1077.9,366.3 1084.3,354.5 1071.5,354.5" fill="#ffffff" stroke="#5a82b1" stroke-width="2.2" stroke-linejoin="miter"/>
<circle cx="1083.8" cy="378.5" r="5.3" fill="#d0dae7" stroke="#5a82b1" stroke-width="2.2"/>
<rect x="1045.3" y="415.3" width="9.4" height="9.4" fill="#d0dae7" stroke="#5a82b1" stroke-width="2.2"/>
<circle cx="1058" cy="430" r="5.3" fill="#d0dae7" stroke="#5a82b1" stroke-width="2.2"/>
<rect x="1057.3" y="410.3" width="9.4" height="9.4" fill="#d0dae7" stroke="#5a82b1" stroke-width="2.2"/>
<rect x="1040.3" y="435.3" width="9.4" height="9.4" fill="#d0dae7" stroke="#5a82b1" stroke-width="2.2"/>
<circle cx="1030" cy="440" r="5.3" fill="#d0dae7" stroke="#5a82b1" stroke-width="2.2"/>
<rect x="1063.3" y="390.3" width="9.4" height="9.4" fill="#d0dae7" stroke="#5a82b1" stroke-width="2.2"/>
<circle cx="1071.8" cy="364.3" r="5.3" fill="#d0dae7" stroke="#5a82b1" stroke-width="2.2"/>
<circle cx="1097.4" cy="308.8" r="5.3" fill="#d0dae7" stroke="#5a82b1" stroke-width="2.2"/>
<circle cx="1115.1" cy="280.1" r="5.3" fill="#d0dae7" stroke="#5a82b1" stroke-width="2.2"/>
<polygon points="1103.3,281.1 1109.39,285.52 1107.06,292.68 1099.54,292.68 1097.21,285.52" fill="#ffffff" stroke="#5a82b1" stroke-width="2.2" stroke-linejoin="miter"/>
<circle cx="1110.8" cy="341.6" r="5.3" fill="#d0dae7" stroke="#5a82b1" stroke-width="2.2"/>
<circle cx="1123.3" cy="343.6" r="5.3" fill="#d0dae7" stroke="#5a82b1" stroke-width="2.2"/>
<circle cx="1148.5" cy="339.7" r="5.3" fill="#d0dae7" stroke="#5a82b1" stroke-width="2.2"/>
<polygon points="1162.3,281.1 1168.39,285.52 1166.06,292.68 1158.54,292.68 1156.21,285.52" fill="#ffffff" stroke="#5a82b1" stroke-width="2.2" stroke-linejoin="miter"/>
<circle cx="1137.7" cy="270.8" r="5.3" fill="#d0dae7" stroke="#5a82b1" stroke-width="2.2"/>
<rect x="1120.2" y="262.2" width="9.4" height="9.4" fill="#d0dae7" stroke="#5a82b1" stroke-width="2.2"/>
<circle cx="1146.6" cy="276.7" r="5.3" fill="#d0dae7" stroke="#5a82b1" stroke-width="2.2"/>
<polygon points="1065.9,366.7 1071.99,371.12 1069.66,378.28 1062.14,378.28 1059.81,371.12" fill="#ffffff" stroke="#5a82b1" stroke-width="2.2" stroke-linejoin="miter"/>
<rect x="1136.9" y="279.9" width="9.4" height="9.4" fill="#d0dae7" stroke="#5a82b1" stroke-width="2.2"/>
<circle cx="1123" cy="312.1" r="5.3" fill="#d0dae7" stroke="#5a82b1" stroke-width="2.2"/>
<polygon points="1132.8,308.6 1139.2,320.4 1126.4,320.4" fill="#ffffff" stroke="#5a82b1" stroke-width="2.2" stroke-linejoin="miter"/>
<rect x="1100.3" y="335.3" width="9.4" height="9.4" fill="#d0dae7" stroke="#5a82b1" stroke-width="2.2"/>
<circle cx="1118" cy="325" r="5.3" fill="#d0dae7" stroke="#5a82b1" stroke-width="2.2"/>
<rect x="1093.3" y="325.3" width="9.4" height="9.4" fill="#d0dae7" stroke="#5a82b1" stroke-width="2.2"/>
<polygon points="1130,283.2 1136.3,290 1130,296.8 1123.7,290" fill="#d0dae7" stroke="#5a82b1" stroke-width="2.2" stroke-linejoin="miter"/>
<rect x="1105.3" y="295.3" width="9.4" height="9.4" fill="#d0dae7" stroke="#5a82b1" stroke-width="2.2"/>
<circle cx="1174.3" cy="186.2" r="5.3" fill="#d0dae7" stroke="#5a82b1" stroke-width="2.2"/>
<circle cx="1160.9" cy="219.9" r="5.3" fill="#d0dae7" stroke="#5a82b1" stroke-width="2.2"/>
<circle cx="1177.1" cy="213.9" r="5.3" fill="#d0dae7" stroke="#5a82b1" stroke-width="2.2"/>
<circle cx="1176.5" cy="222.5" r="5.3" fill="#d0dae7" stroke="#5a82b1" stroke-width="2.2"/>
<circle cx="1192" cy="213.9" r="5.3" fill="#d0dae7" stroke="#5a82b1" stroke-width="2.2"/>
<circle cx="1199.9" cy="204.3" r="5.3" fill="#d0dae7" stroke="#5a82b1" stroke-width="2.2"/>
<circle cx="1207.4" cy="154.3" r="5.3" fill="#d0dae7" stroke="#5a82b1" stroke-width="2.2"/>
<circle cx="1238.3" cy="178.8" r="5.3" fill="#d0dae7" stroke="#5a82b1" stroke-width="2.2"/>
<circle cx="1222.3" cy="183" r="5.3" fill="#d0dae7" stroke="#5a82b1" stroke-width="2.2"/>
<rect x="1151.1" y="227.3" width="9.4" height="9.4" fill="#d0dae7" stroke="#5a82b1" stroke-width="2.2"/>
<rect x="1212.3" y="179.4" width="9.4" height="9.4" fill="#d0dae7" stroke="#5a82b1" stroke-width="2.2"/>
<polygon points="1220.2,191.2 1226.5,198 1220.2,204.8 1213.9,198" fill="#d0dae7" stroke="#5a82b1" stroke-width="2.2" stroke-linejoin="miter"/>
<polygon points="1222.3,204.3 1228.39,208.72 1226.06,215.88 1218.54,215.88 1216.21,208.72" fill="#ffffff" stroke="#5a82b1" stroke-width="2.2" stroke-linejoin="miter"/>
<polygon points="1193.5,235.2 1199.59,239.62 1197.26,246.78 1189.74,246.78 1187.41,239.62" fill="#ffffff" stroke="#5a82b1" stroke-width="2.2" stroke-linejoin="miter"/>
<rect x="1181.4" y="245.5" width="9.4" height="9.4" fill="#d0dae7" stroke="#5a82b1" stroke-width="2.2"/>
<circle cx="1150.9" cy="253.4" r="5.3" fill="#d0dae7" stroke="#5a82b1" stroke-width="2.2"/>
<circle cx="1163.7" cy="257.6" r="5.3" fill="#d0dae7" stroke="#5a82b1" stroke-width="2.2"/>
<rect x="1119.6" y="261.5" width="9.4" height="9.4" fill="#d0dae7" stroke="#5a82b1" stroke-width="2.2"/>
<circle cx="1138.1" cy="271" r="5.3" fill="#d0dae7" stroke="#5a82b1" stroke-width="2.2"/>
<rect x="1196.3" y="184.7" width="9.4" height="9.4" fill="#d0dae7" stroke="#5a82b1" stroke-width="2.2"/>
<rect x="1242.1" y="147.4" width="9.4" height="9.4" fill="#d0dae7" stroke="#5a82b1" stroke-width="2.2"/>
<circle cx="1225.8" cy="112.5" r="5.3" fill="#d0dae7" stroke="#5a82b1" stroke-width="2.2"/>
<circle cx="1251.4" cy="101.4" r="5.3" fill="#d0dae7" stroke="#5a82b1" stroke-width="2.2"/>
<circle cx="1276.6" cy="123.1" r="5.3" fill="#d0dae7" stroke="#5a82b1" stroke-width="2.2"/>
<circle cx="1285.1" cy="92.2" r="5.3" fill="#d0dae7" stroke="#5a82b1" stroke-width="2.2"/>
<circle cx="1253.5" cy="163.6" r="5.3" fill="#d0dae7" stroke="#5a82b1" stroke-width="2.2"/>
<rect x="1259.1" y="69.4" width="9.4" height="9.4" fill="#d0dae7" stroke="#5a82b1" stroke-width="2.2"/>
<rect x="1228.2" y="139.7" width="9.4" height="9.4" fill="#d0dae7" stroke="#5a82b1" stroke-width="2.2"/>
<rect x="1244.2" y="145.1" width="9.4" height="9.4" fill="#d0dae7" stroke="#5a82b1" stroke-width="2.2"/>
<rect x="1274" y="83.3" width="9.4" height="9.4" fill="#d0dae7" stroke="#5a82b1" stroke-width="2.2"/>
<polygon points="1277.6,70.5 1283.9,77.3 1277.6,84.1 1271.3,77.3" fill="#d0dae7" stroke="#5a82b1" stroke-width="2.2" stroke-linejoin="miter"/>
<polygon points="1253.1,123.1 1259.19,127.52 1256.86,134.68 1249.34,134.68 1247.01,127.52" fill="#ffffff" stroke="#5a82b1" stroke-width="2.2" stroke-linejoin="miter"/>
<polygon points="1285.1,115 1291.19,119.42 1288.86,126.58 1281.34,126.58 1279.01,119.42" fill="#ffffff" stroke="#5a82b1" stroke-width="2.2" stroke-linejoin="miter"/>
<circle cx="1268.8" cy="31" r="5.3" fill="#d0dae7" stroke="#5a82b1" stroke-width="2.2"/>
<circle cx="1302.8" cy="82.1" r="5.3" fill="#d0dae7" stroke="#5a82b1" stroke-width="2.2"/>
<polygon points="1131,307.4 1137.4,319.2 1124.6,319.2" fill="#ffffff" stroke="#5a82b1" stroke-width="2.2" stroke-linejoin="miter"/>
<circle cx="1133" cy="296" r="5.3" fill="#d0dae7" stroke="#5a82b1" stroke-width="2.2"/>
<rect x="1114.7" y="313.3" width="9.4" height="9.4" fill="#d0dae7" stroke="#5a82b1" stroke-width="2.2"/>
<polygon points="1104,311.2 1110.3,318 1104,324.8 1097.7,318" fill="#d0dae7" stroke="#5a82b1" stroke-width="2.2" stroke-linejoin="miter"/>
<polygon points="1095,327.6 1101.4,339.4 1088.6,339.4" fill="#ffffff" stroke="#5a82b1" stroke-width="2.2" stroke-linejoin="miter"/>
<rect x="1081.3" y="355.3" width="9.4" height="9.4" fill="#d0dae7" stroke="#5a82b1" stroke-width="2.2"/>
<circle cx="1078" cy="374" r="5.3" fill="#d0dae7" stroke="#5a82b1" stroke-width="2.2"/>
<rect x="1045.3" y="407.3" width="9.4" height="9.4" fill="#d0dae7" stroke="#5a82b1" stroke-width="2.2"/>
<circle cx="1058" cy="418" r="5.3" fill="#d0dae7" stroke="#5a82b1" stroke-width="2.2"/>
<polygon points="1045,416.6 1051.4,428.4 1038.6,428.4" fill="#ffffff" stroke="#5a82b1" stroke-width="2.2" stroke-linejoin="miter"/>
<rect x="1058.3" y="423.3" width="9.4" height="9.4" fill="#d0dae7" stroke="#5a82b1" stroke-width="2.2"/>
<circle cx="1015" cy="455" r="5.3" fill="#d0dae7" stroke="#5a82b1" stroke-width="2.2"/>
<rect x="1017.3" y="457.3" width="9.4" height="9.4" fill="#d0dae7" stroke="#5a82b1" stroke-width="2.2"/>
<circle cx="1031" cy="450" r="5.3" fill="#d0dae7" stroke="#5a82b1" stroke-width="2.2"/>
<polygon points="1037,434.2 1043.3,441 1037,447.8 1030.7,441" fill="#d0dae7" stroke="#5a82b1" stroke-width="2.2" stroke-linejoin="miter"/>
<rect x="1105.3" y="307.3" width="9.4" height="9.4" fill="#d0dae7" stroke="#5a82b1" stroke-width="2.2"/>
<circle cx="1139" cy="292" r="5.3" fill="#d0dae7" stroke="#5a82b1" stroke-width="2.2"/>
<circle cx="1125.4" cy="305" r="5.3" fill="#d0dae7" stroke="#5a82b1" stroke-width="2.2"/>
<circle cx="854.5" cy="512.8" r="5.3" fill="#c0c6dc" stroke="#274482" stroke-width="2.2"/>
<circle cx="877" cy="512" r="5.3" fill="#c0c6dc" stroke="#274482" stroke-width="2.2"/>
<circle cx="903.3" cy="508" r="5.3" fill="#c0c6dc" stroke="#274482" stroke-width="2.2"/>
<circle cx="928.6" cy="509.3" r="5.3" fill="#c0c6dc" stroke="#274482" stroke-width="2.2"/>
<circle cx="950.9" cy="504.1" r="5.3" fill="#c0c6dc" stroke="#274482" stroke-width="2.2"/>
<circle cx="970.4" cy="505.5" r="5.3" fill="#c0c6dc" stroke="#274482" stroke-width="2.2"/>
<circle cx="985.7" cy="497.1" r="5.3" fill="#c0c6dc" stroke="#274482" stroke-width="2.2"/>
<circle cx="1004.4" cy="477.1" r="5.3" fill="#c0c6dc" stroke="#274482" stroke-width="2.2"/>
<circle cx="1023.1" cy="465.7" r="5.3" fill="#c0c6dc" stroke="#274482" stroke-width="2.2"/>
<line x1="1036.9" y1="424.91" x2="1036.9" y2="439.29" stroke="#274482" stroke-width="2.2" />
<circle cx="1036.9" cy="432.1" r="5.3" fill="#c0c6dc" stroke="#274482" stroke-width="2.2"/>
<line x1="1044.8" y1="423.71" x2="1044.8" y2="438.29" stroke="#274482" stroke-width="2.2" />
<circle cx="1044.8" cy="431" r="5.3" fill="#c0c6dc" stroke="#274482" stroke-width="2.2"/>
<line x1="1053.3" y1="430.25" x2="1053.3" y2="443.75" stroke="#274482" stroke-width="2.2" />
<circle cx="1053.3" cy="437" r="5.3" fill="#c0c6dc" stroke="#274482" stroke-width="2.2"/>
<line x1="1061.5" y1="398.1" x2="1061.5" y2="416.9" stroke="#274482" stroke-width="2.2" />
<circle cx="1061.5" cy="407.5" r="5.3" fill="#c0c6dc" stroke="#274482" stroke-width="2.2"/>
<line x1="1068.9" y1="377.6" x2="1068.9" y2="399.8" stroke="#274482" stroke-width="2.2" />
<circle cx="1068.9" cy="388.7" r="5.3" fill="#c0c6dc" stroke="#274482" stroke-width="2.2"/>
<line x1="1083.5" y1="332.15" x2="1083.5" y2="361.85" stroke="#274482" stroke-width="2.2" />
<circle cx="1083.5" cy="347" r="5.3" fill="#c0c6dc" stroke="#274482" stroke-width="2.2"/>
<line x1="1091.4" y1="326.48" x2="1091.4" y2="357.12" stroke="#274482" stroke-width="2.2" />
<circle cx="1091.4" cy="341.8" r="5.3" fill="#c0c6dc" stroke="#274482" stroke-width="2.2"/>
<line x1="1099" y1="305.99" x2="1099" y2="340.01" stroke="#274482" stroke-width="2.2" />
<circle cx="1099" cy="323" r="5.3" fill="#c0c6dc" stroke="#274482" stroke-width="2.2"/>
<line x1="1106.2" y1="309.15" x2="1106.2" y2="342.65" stroke="#274482" stroke-width="2.2" />
<circle cx="1106.2" cy="325.9" r="5.3" fill="#c0c6dc" stroke="#274482" stroke-width="2.2"/>
<line x1="1114.7" y1="281.9" x2="1114.7" y2="319.9" stroke="#274482" stroke-width="2.2" />
<circle cx="1114.7" cy="300.9" r="5.3" fill="#c0c6dc" stroke="#274482" stroke-width="2.2"/>
<line x1="1122.6" y1="275.91" x2="1122.6" y2="314.89" stroke="#274482" stroke-width="2.2" />
<circle cx="1122.6" cy="295.4" r="5.3" fill="#c0c6dc" stroke="#274482" stroke-width="2.2"/>
<line x1="1129.8" y1="287.68" x2="1129.8" y2="324.72" stroke="#274482" stroke-width="2.2" />
<circle cx="1129.8" cy="306.2" r="5.3" fill="#c0c6dc" stroke="#274482" stroke-width="2.2"/>
<circle cx="813.7" cy="511" r="5.3" fill="#bfe3d9" stroke="#249e7f" stroke-width="2.2"/>
<circle cx="840.4" cy="510.3" r="5.3" fill="#bfe3d9" stroke="#249e7f" stroke-width="2.2"/>
<circle cx="866.5" cy="509.4" r="5.3" fill="#bfe3d9" stroke="#249e7f" stroke-width="2.2"/>
<circle cx="893.6" cy="509.4" r="5.3" fill="#bfe3d9" stroke="#249e7f" stroke-width="2.2"/>
<circle cx="919.9" cy="508.6" r="5.3" fill="#bfe3d9" stroke="#249e7f" stroke-width="2.2"/>
<circle cx="940.4" cy="503.4" r="5.3" fill="#bfe3d9" stroke="#249e7f" stroke-width="2.2"/>
<circle cx="955.7" cy="497.8" r="5.3" fill="#bfe3d9" stroke="#249e7f" stroke-width="2.2"/>
<circle cx="969.7" cy="501.3" r="5.3" fill="#bfe3d9" stroke="#249e7f" stroke-width="2.2"/>
<circle cx="979.4" cy="493.7" r="5.3" fill="#bfe3d9" stroke="#249e7f" stroke-width="2.2"/>
<circle cx="986.4" cy="490.2" r="5.3" fill="#bfe3d9" stroke="#249e7f" stroke-width="2.2"/>
<circle cx="993.3" cy="475.6" r="5.3" fill="#bfe3d9" stroke="#249e7f" stroke-width="2.2"/>
<circle cx="999.5" cy="488.4" r="5.3" fill="#bfe3d9" stroke="#249e7f" stroke-width="2.2"/>
<circle cx="1004.4" cy="470.3" r="5.3" fill="#bfe3d9" stroke="#249e7f" stroke-width="2.2"/>
<circle cx="1013.9" cy="471.6" r="5.3" fill="#bfe3d9" stroke="#249e7f" stroke-width="2.2"/>
<line x1="1018.5" y1="439.73" x2="1018.5" y2="451.67" stroke="#249e7f" stroke-width="2.2" />
<circle cx="1018.5" cy="445.7" r="5.3" fill="#bfe3d9" stroke="#249e7f" stroke-width="2.2"/>
<line x1="1026.1" y1="438.75" x2="1026.1" y2="450.85" stroke="#249e7f" stroke-width="2.2" />
<circle cx="1026.1" cy="444.8" r="5.3" fill="#bfe3d9" stroke="#249e7f" stroke-width="2.2"/>
<circle cx="1032.7" cy="456.2" r="5.3" fill="#bfe3d9" stroke="#249e7f" stroke-width="2.2"/>
<line x1="1045.1" y1="393.41" x2="1045.1" y2="412.99" stroke="#249e7f" stroke-width="2.2" />
<circle cx="1045.1" cy="403.2" r="5.3" fill="#bfe3d9" stroke="#249e7f" stroke-width="2.2"/>
<line x1="1052.6" y1="397.22" x2="1052.6" y2="416.18" stroke="#249e7f" stroke-width="2.2" />
<circle cx="1052.6" cy="406.7" r="5.3" fill="#bfe3d9" stroke="#249e7f" stroke-width="2.2"/>
<line x1="1058.9" y1="386.54" x2="1058.9" y2="407.26" stroke="#249e7f" stroke-width="2.2" />
<circle cx="1058.9" cy="396.9" r="5.3" fill="#bfe3d9" stroke="#249e7f" stroke-width="2.2"/>
<line x1="1065.7" y1="390.57" x2="1065.7" y2="410.63" stroke="#249e7f" stroke-width="2.2" />
<circle cx="1065.7" cy="400.6" r="5.3" fill="#bfe3d9" stroke="#249e7f" stroke-width="2.2"/>
<line x1="1079.6" y1="373.35" x2="1079.6" y2="396.25" stroke="#249e7f" stroke-width="2.2" />
<circle cx="1079.6" cy="384.8" r="5.3" fill="#bfe3d9" stroke="#249e7f" stroke-width="2.2"/>
<line x1="1085.7" y1="356.46" x2="1085.7" y2="382.14" stroke="#249e7f" stroke-width="2.2" />
<circle cx="1085.7" cy="369.3" r="5.3" fill="#bfe3d9" stroke="#249e7f" stroke-width="2.2"/>
<line x1="1098.9" y1="347.63" x2="1098.9" y2="374.77" stroke="#249e7f" stroke-width="2.2" />
<circle cx="1098.9" cy="361.2" r="5.3" fill="#bfe3d9" stroke="#249e7f" stroke-width="2.2"/>
<line x1="1092.3" y1="334.77" x2="1092.3" y2="364.03" stroke="#249e7f" stroke-width="2.2" />
<circle cx="1092.3" cy="349.4" r="5.3" fill="#bfe3d9" stroke="#249e7f" stroke-width="2.2"/>
<line x1="1085.6" y1="356.35" x2="1085.6" y2="382.05" stroke="#249e7f" stroke-width="2.2" />
<circle cx="1085.6" cy="369.2" r="5.3" fill="#bfe3d9" stroke="#249e7f" stroke-width="2.2"/>
<line x1="939.4" y1="493" x2="939.4" y2="506" stroke="#b8000c" stroke-width="2.4" />
<line x1="1035.4" y1="418" x2="1035.4" y2="432" stroke="#b8000c" stroke-width="2.4" />
<line x1="1074.3" y1="385" x2="1074.3" y2="404" stroke="#b8000c" stroke-width="2.4" />
<line x1="1112.7" y1="298.4" x2="1112.7" y2="334.8" stroke="#b8000c" stroke-width="2.4" />
<line x1="1143.4" y1="235.3" x2="1143.4" y2="281" stroke="#b8000c" stroke-width="2.4" />
<line x1="1174.3" y1="237.4" x2="1174.3" y2="296.4" stroke="#b8000c" stroke-width="2.4" />
<line x1="1205.3" y1="155.3" x2="1205.3" y2="207.5" stroke="#b8000c" stroke-width="2.4" />
<line x1="1236.2" y1="131.8" x2="1236.2" y2="186.2" stroke="#b8000c" stroke-width="2.4" />
<line x1="1267" y1="76.2" x2="1267" y2="143.4" stroke="#b8000c" stroke-width="2.4" />
<line x1="1297.5" y1="26.4" x2="1297.5" y2="95.2" stroke="#b8000c" stroke-width="2.4" />
<line x1="1328.5" y1="11.9" x2="1328.5" y2="70" stroke="#b8000c" stroke-width="2.4" />
<circle cx="881.6" cy="511.4" r="5.3" fill="#e7b2b4" stroke="#b8000c" stroke-width="2.2"/>
<circle cx="939.4" cy="498.8" r="5.3" fill="#e7b2b4" stroke="#b8000c" stroke-width="2.2"/>
<circle cx="989.4" cy="478.9" r="5.3" fill="#e7b2b4" stroke="#b8000c" stroke-width="2.2"/>
<circle cx="1035.4" cy="425.1" r="5.3" fill="#e7b2b4" stroke="#b8000c" stroke-width="2.2"/>
<circle cx="1074.3" cy="393.6" r="5.3" fill="#e7b2b4" stroke="#b8000c" stroke-width="2.2"/>
<circle cx="1112.7" cy="316.5" r="5.3" fill="#e7b2b4" stroke="#b8000c" stroke-width="2.2"/>
<circle cx="1143.4" cy="257.6" r="5.3" fill="#e7b2b4" stroke="#b8000c" stroke-width="2.2"/>
<circle cx="1174.3" cy="266.8" r="5.3" fill="#e7b2b4" stroke="#b8000c" stroke-width="2.2"/>
<circle cx="1205.3" cy="180.9" r="5.3" fill="#e7b2b4" stroke="#b8000c" stroke-width="2.2"/>
<circle cx="1236.2" cy="159.6" r="5.3" fill="#e7b2b4" stroke="#b8000c" stroke-width="2.2"/>
<circle cx="1267" cy="109.3" r="5.3" fill="#e7b2b4" stroke="#b8000c" stroke-width="2.2"/>
<circle cx="1297.5" cy="60.9" r="5.3" fill="#e7b2b4" stroke="#b8000c" stroke-width="2.2"/>
<circle cx="1328.5" cy="27.5" r="5.3" fill="#e7b2b4" stroke="#b8000c" stroke-width="2.2"/>
<path d="M800,512.1 C806.67,511.95 826.67,511.58 840,511.2 C853.33,510.82 870,510.27 880,509.8 C890,509.33 893.33,508.98 900,508.4 C906.67,507.82 913.33,507.33 920,506.3 C926.67,505.27 933.33,504.02 940,502.2 C946.67,500.38 954.17,497.52 960,495.4 C965.83,493.28 970,491.77 975,489.5 C980,487.23 985,484.97 990,481.8 C995,478.63 1000.83,474.05 1005,470.5 C1009.17,466.95 1012.08,463.42 1015,460.5 C1017.92,457.58 1021.25,454.25 1022.5,453" fill="none" stroke="#000" stroke-width="2.6"/>
<line x1="982.5" y1="511.5" x2="1318.5" y2="33.3" stroke="#000" stroke-width="2.6" stroke-dasharray="25 26.14" stroke-dashoffset="4.74"/>
</g>
<line x1="800" y1="12.2" x2="800" y2="522.9" stroke="#000" stroke-width="1.5" />
<line x1="799.3" y1="522.2" x2="1337" y2="522.2" stroke="#000" stroke-width="1.5" />
<line x1="800" y1="512.3" x2="808" y2="512.3" stroke="#000" stroke-width="1.5" />
<text x="789" y="521" font-size="30.5" text-anchor="end" >0</text>
<line x1="800" y1="308.3" x2="808" y2="308.3" stroke="#000" stroke-width="1.5" />
<text x="789" y="317" font-size="30.5" text-anchor="end" >600</text>
<line x1="800" y1="104.3" x2="808" y2="104.3" stroke="#000" stroke-width="1.5" />
<text x="789" y="113" font-size="30.5" text-anchor="end" >1,200</text>
<line x1="820.8" y1="522.2" x2="820.8" y2="515" stroke="#000" stroke-width="1.5" />
<line x1="901.65" y1="522.2" x2="901.65" y2="517" stroke="#000" stroke-width="1.5" />
<line x1="982.5" y1="522.2" x2="982.5" y2="515" stroke="#000" stroke-width="1.5" />
<line x1="1063.35" y1="522.2" x2="1063.35" y2="517" stroke="#000" stroke-width="1.5" />
<line x1="1144.2" y1="522.2" x2="1144.2" y2="515" stroke="#000" stroke-width="1.5" />
<line x1="1225.05" y1="522.2" x2="1225.05" y2="517" stroke="#000" stroke-width="1.5" />
<line x1="1305.9" y1="522.2" x2="1305.9" y2="515" stroke="#000" stroke-width="1.5" />
<text x="820.8" y="556.5" font-size="30.5" text-anchor="middle" ><tspan dy="2">&#8722;</tspan><tspan dy="-2">200</tspan></text>
<text x="982.5" y="556.5" font-size="30.5" text-anchor="middle" >0</text>
<text x="1144.2" y="556.5" font-size="30.5" text-anchor="middle" >200</text>
<text x="1305.9" y="556.5" font-size="30.5" text-anchor="middle" >400</text>
<text x="1068.2" y="598.1" font-size="30" text-anchor="middle" font-style="italic" word-spacing="-1.2" letter-spacing="-0.3">(t <tspan dy="2">&#8722;</tspan><tspan dy="-2"> </tspan>t<tspan font-size="24" dy="-4.5" dx="0.5">*</tspan><tspan dy="4.5">)/t</tspan><tspan font-size="21" dy="9" font-family="Liberation Serif" font-style="normal">&#958;</tspan></text>
<text x="709" y="270" font-size="30" text-anchor="middle" transform="rotate(-90 709 270)">(<tspan font-family="DejaVu Sans">&#8467;</tspan>/<tspan font-family="Liberation Serif">&#958;</tspan>)<tspan font-size="21.5" dy="-12.5">2</tspan></text>
</g>
<g id="pc">
<line x1="1474" y1="213.9" x2="1833" y2="213.9" stroke="#000" stroke-width="2.2" stroke-dasharray="24.6 23.2" stroke-dashoffset="4.9"/>
<line x1="1486.3" y1="523" x2="1564.5" y2="22.1" stroke="#000" stroke-width="2.4" />
<line x1="1502.7" y1="438.3" x2="1502.7" y2="451" stroke="#243f88" stroke-width="2.4" />
<line x1="1505.5" y1="425.5" x2="1505.5" y2="434" stroke="#243f88" stroke-width="2.4" />
<line x1="1516.9" y1="358.6" x2="1516.9" y2="381.6" stroke="#243f88" stroke-width="2.4" />
<line x1="1525.1" y1="286.3" x2="1525.1" y2="312.9" stroke="#243f88" stroke-width="2.4" />
<line x1="1539" y1="258.3" x2="1539" y2="284.9" stroke="#243f88" stroke-width="2.4" />
<line x1="1553.7" y1="227.4" x2="1553.7" y2="267.2" stroke="#243f88" stroke-width="2.4" />
<line x1="1578.8" y1="191.7" x2="1578.8" y2="216.3" stroke="#243f88" stroke-width="2.4" />
<line x1="1621.6" y1="161" x2="1621.6" y2="195.7" stroke="#243f88" stroke-width="2.4" />
<line x1="1662.3" y1="220" x2="1662.3" y2="287.9" stroke="#243f88" stroke-width="2.4" />
<line x1="1701.6" y1="196.1" x2="1701.6" y2="279" stroke="#243f88" stroke-width="2.4" />
<line x1="1745.9" y1="137" x2="1745.9" y2="235.4" stroke="#243f88" stroke-width="2.4" />
<line x1="1786.6" y1="184.6" x2="1786.6" y2="300.3" stroke="#243f88" stroke-width="2.4" />
<polygon points="1495.7,511.4 1492.3,517.29 1485.5,517.29 1482.1,511.4 1485.5,505.51 1492.3,505.51" fill="#c3c9de" stroke="#243f88" stroke-width="2.4" stroke-linejoin="miter"/>
<polygon points="1500.4,485.7 1497,491.59 1490.2,491.59 1486.8,485.7 1490.2,479.81 1497,479.81" fill="#c3c9de" stroke="#243f88" stroke-width="2.4" stroke-linejoin="miter"/>
<polygon points="1504.8,465.4 1501.4,471.29 1494.6,471.29 1491.2,465.4 1494.6,459.51 1501.4,459.51" fill="#c3c9de" stroke="#243f88" stroke-width="2.4" stroke-linejoin="miter"/>
<polygon points="1509.5,438.3 1506.1,444.19 1499.3,444.19 1495.9,438.3 1499.3,432.41 1506.1,432.41" fill="#c3c9de" stroke="#243f88" stroke-width="2.4" stroke-linejoin="miter"/>
<polygon points="1512.3,434 1508.9,439.89 1502.1,439.89 1498.7,434 1502.1,428.11 1508.9,428.11" fill="#c3c9de" stroke="#243f88" stroke-width="2.4" stroke-linejoin="miter"/>
<polygon points="1523.7,370.4 1520.3,376.29 1513.5,376.29 1510.1,370.4 1513.5,364.51 1520.3,364.51" fill="#c3c9de" stroke="#243f88" stroke-width="2.4" stroke-linejoin="miter"/>
<polygon points="1531.9,299.6 1528.5,305.49 1521.7,305.49 1518.3,299.6 1521.7,293.71 1528.5,293.71" fill="#c3c9de" stroke="#243f88" stroke-width="2.4" stroke-linejoin="miter"/>
<polygon points="1545.8,272.2 1542.4,278.09 1535.6,278.09 1532.2,272.2 1535.6,266.31 1542.4,266.31" fill="#c3c9de" stroke="#243f88" stroke-width="2.4" stroke-linejoin="miter"/>
<polygon points="1560.5,247.1 1557.1,252.99 1550.3,252.99 1546.9,247.1 1550.3,241.21 1557.1,241.21" fill="#c3c9de" stroke="#243f88" stroke-width="2.4" stroke-linejoin="miter"/>
<polygon points="1585.6,204 1582.2,209.89 1575.4,209.89 1572,204 1575.4,198.11 1582.2,198.11" fill="#c3c9de" stroke="#243f88" stroke-width="2.4" stroke-linejoin="miter"/>
<polygon points="1628.4,178.5 1625,184.39 1618.2,184.39 1614.8,178.5 1618.2,172.61 1625,172.61" fill="#c3c9de" stroke="#243f88" stroke-width="2.4" stroke-linejoin="miter"/>
<polygon points="1669.1,253.8 1665.7,259.69 1658.9,259.69 1655.5,253.8 1658.9,247.91 1665.7,247.91" fill="#c3c9de" stroke="#243f88" stroke-width="2.4" stroke-linejoin="miter"/>
<polygon points="1708.4,237.4 1705,243.29 1698.2,243.29 1694.8,237.4 1698.2,231.51 1705,231.51" fill="#c3c9de" stroke="#243f88" stroke-width="2.4" stroke-linejoin="miter"/>
<polygon points="1752.7,186.6 1749.3,192.49 1742.5,192.49 1739.1,186.6 1742.5,180.71 1749.3,180.71" fill="#c3c9de" stroke="#243f88" stroke-width="2.4" stroke-linejoin="miter"/>
<polygon points="1793.4,242.3 1790,248.19 1783.2,248.19 1779.8,242.3 1783.2,236.41 1790,236.41" fill="#c3c9de" stroke="#243f88" stroke-width="2.4" stroke-linejoin="miter"/>
<line x1="1473.9" y1="21.5" x2="1473.9" y2="523.8" stroke="#000" stroke-width="1.5" />
<line x1="1473.2" y1="523.1" x2="1833" y2="523.1" stroke="#000" stroke-width="1.5" />
<text x="1461.2" y="532.2" font-size="30.5" text-anchor="end" >0</text>
<line x1="1473.9" y1="340.9" x2="1483" y2="340.9" stroke="#000" stroke-width="1.5" />
<text x="1461.2" y="349.8" font-size="30.5" text-anchor="end" >2</text>
<line x1="1473.9" y1="158.5" x2="1483" y2="158.5" stroke="#000" stroke-width="1.5" />
<text x="1461.2" y="167.4" font-size="30.5" text-anchor="end" >4</text>
<line x1="1486.6" y1="523.1" x2="1486.6" y2="514" stroke="#000" stroke-width="1.5" />
<text x="1486.6" y="556.6" font-size="30.5" text-anchor="middle" >0</text>
<line x1="1640.8" y1="523.1" x2="1640.8" y2="514" stroke="#000" stroke-width="1.5" />
<text x="1640.8" y="556.6" font-size="30.5" text-anchor="middle" >600</text>
<line x1="1795" y1="523.1" x2="1795" y2="514" stroke="#000" stroke-width="1.5" />
<text x="1793.8" y="556.6" font-size="30.5" text-anchor="middle" >1,200</text>
<text x="1653" y="597.3" font-size="30" text-anchor="middle" >(<tspan font-family="DejaVu Sans">&#8467;</tspan>/<tspan font-family="Liberation Serif">&#958;</tspan>)<tspan font-size="21" dy="-11">2</tspan></text>
<g transform="translate(1400 272) rotate(-90)">
<text x="-27.5" y="-5.5" font-size="30" text-anchor="middle" font-style="italic">m</text>
<text x="-25" y="24" font-size="30" text-anchor="middle" font-style="italic">&#295;</text>
<line x1="-38.5" y1="0" x2="-11.5" y2="0" stroke="#000" stroke-width="1.5" />
<text x="15.9" y="-5.5" font-size="30" text-anchor="middle" >d<tspan font-family="DejaVu Sans" dx="2.5">&#8467;</tspan><tspan font-size="21" dy="-12.5">2</tspan></text>
<text x="16.3" y="24" font-size="30" text-anchor="middle" >d<tspan font-style="italic">t</tspan></text>
<line x1="-3.5" y1="0" x2="39" y2="0" stroke="#000" stroke-width="1.5" />
</g>
</g>
</svg></body></html>
